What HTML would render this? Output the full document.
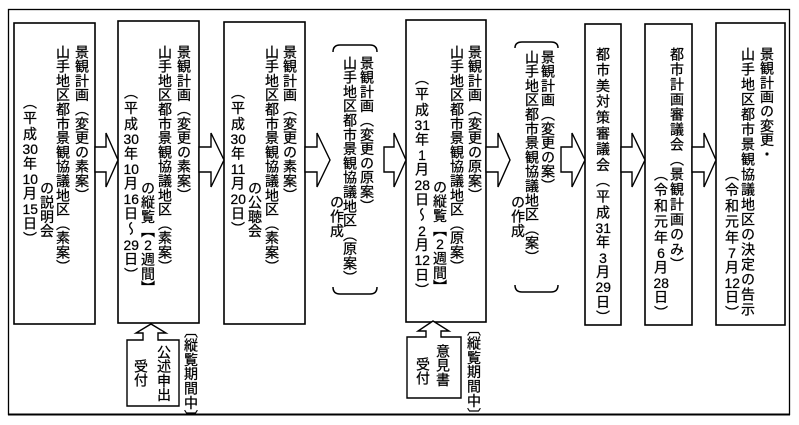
<!DOCTYPE html>
<html><head><meta charset="utf-8"><style>
html,body{margin:0;padding:0;background:#fff;}
#w{position:relative;width:799px;height:425px;overflow:hidden;background:#fff;}
svg{position:absolute;left:0;top:0;}
.c{position:absolute;writing-mode:vertical-rl;font-family:"Liberation Sans","Noto Sans CJK JP",sans-serif;font-size:14px;line-height:16px;width:16px;letter-spacing:0.3px;color:#000;white-space:nowrap;-webkit-text-stroke:0.25px #000;}
.d{letter-spacing:1.8px;}
.t{text-combine-upright:all;}
</style></head><body><div id="w">
<svg width="799" height="425" viewBox="0 0 799 425">
<g fill="none" stroke="#000">
<rect x="8.5" y="9.5" width="781" height="405" stroke-width="1.3"/>
<line x1="8" y1="414.5" x2="790" y2="414.5" stroke-width="2"/>
<g stroke-width="1.6">
<rect x="14" y="23" width="81" height="301"/>
<rect x="118" y="21" width="81" height="302"/>
<rect x="224" y="22" width="81" height="302"/>
<rect x="406" y="20" width="80" height="302"/>
<rect x="585" y="24" width="36" height="301"/>
<rect x="645" y="24" width="47" height="301"/>
<rect x="716" y="23" width="69" height="302"/>
</g>
<g stroke-width="1.5">
<path d="M333,52 Q333,45 340,45 L370,45 Q377,45 377,52"/>
<path d="M333,287 Q333,294 340,294 L370,294 Q377,294 377,287"/>
<path d="M515,48 Q515,42 522,42 L551,42 Q558,42 558,48"/>
<path d="M515,285 Q515,292 522,292 L551,292 Q558,292 558,285"/>
</g>
<g fill="#fff" stroke-width="1.4">
<polygon points="95,147 106,147 106,133 118,160 106,187 106,172 95,172"/>
<polygon points="199,147 211,147 211,133 224,160 211,187 211,172 199,172"/>
<polygon points="305,147 317,147 317,133 330,160 317,187 317,172 305,172"/>
<polygon points="384,147 394,147 394,133 406,160 394,187 394,172 384,172"/>
<polygon points="486,147 498,147 498,133 510,160 498,187 498,172 486,172"/>
<polygon points="561,147 572,147 572,133 585,160 572,187 572,172 561,172"/>
<polygon points="621,147 632,147 632,133 645,160 632,187 632,172 621,172"/>
<polygon points="692,147 704,147 704,133 716,160 704,187 704,172 692,172"/>
<polygon points="127,406 127,340 143,340 143,333 136,333 151,324 166,333 158,333 158,340 179,340 179,406"/>
<polygon points="407,398 407,337 426,337 426,331 418,331 433,321 449,331 441,331 441,337 461,337 461,398"/>
</g>
</g>
</svg>
<!-- box1 -->
<div class="c" style="left:74px;top:45px">景観計画（変更の素案）</div>
<div class="c" style="left:55px;top:45px">山手地区都市景観協議地区（素案）</div>
<div class="c" style="left:39px;top:181px">の説明会</div>
<div class="c d" style="left:22px;top:95px">（平成<span class="t">30</span>年<span class="t">10</span>月<span class="t">15</span>日）</div>
<!-- box2 -->
<div class="c" style="left:176px;top:45px">景観計画（変更の素案）</div>
<div class="c" style="left:157px;top:45px">山手地区都市景観協議地区（素案）</div>
<div class="c" style="left:140px;top:181px">の縦覧【<span class="t">2</span>週間】</div>
<div class="c d" style="left:123px;top:85px">（平成<span class="t">30</span>年<span class="t">10</span>月<span class="t">16</span>日～<span class="t">29</span>日）</div>
<!-- box3 -->
<div class="c" style="left:282px;top:45px">景観計画（変更の素案）</div>
<div class="c" style="left:264px;top:45px">山手地区都市景観協議地区（素案）</div>
<div class="c" style="left:247px;top:181px">の公聴会</div>
<div class="c d" style="left:230px;top:85px">（平成<span class="t">30</span>年<span class="t">11</span>月<span class="t">20</span>日）</div>
<!-- box4 -->
<div class="c" style="left:359px;top:56px">景観計画（変更の原案）</div>
<div class="c" style="left:342px;top:56px">山手地区都市景観協議地区（原案）</div>
<div class="c" style="left:329px;top:195px">の作成</div>
<!-- box5 -->
<div class="c" style="left:467px;top:45px">景観計画（変更の原案）</div>
<div class="c" style="left:449px;top:45px">山手地区都市景観協議地区（原案）</div>
<div class="c" style="left:432px;top:180px">の縦覧【<span class="t">2</span>週間】</div>
<div class="c d" style="left:414px;top:71px">（平成<span class="t">31</span>年<span class="t">1</span>月<span class="t">28</span>日～<span class="t">2</span>月<span class="t">12</span>日）</div>
<!-- box6 -->
<div class="c" style="left:540px;top:50px">景観計画（変更の案）</div>
<div class="c" style="left:524px;top:50px">山手地区都市景観協議地区（案）</div>
<div class="c" style="left:510px;top:195px">の作成</div>
<!-- box7 -->
<div class="c d" style="left:595px;top:47px">都市美対策審議会（平成<span class="t">31</span>年<span class="t">3</span>月<span class="t">29</span>日）</div>
<!-- box8 -->
<div class="c" style="left:669px;top:47px;letter-spacing:1px">都市計画審議会（景観計画のみ）</div>
<div class="c d" style="left:653px;top:167px">（令和元年<span class="t">6</span>月<span class="t">28</span>日）</div>
<!-- box9 -->
<div class="c" style="left:759px;top:47px">景観計画の変更・</div>
<div class="c" style="left:740px;top:47px;letter-spacing:1px">山手地区都市景観協議地区の決定の告示</div>
<div class="c d" style="left:724px;top:167px">（令和元年<span class="t">7</span>月<span class="t">12</span>日）</div>
<!-- receive boxes -->
<div class="c" style="left:156px;top:345px">公述申出</div>
<div class="c" style="left:133px;top:359px">受付</div>
<div class="c" style="left:183px;top:324px">〔縦覧期間中〕</div>
<div class="c" style="left:435px;top:344px">意見書</div>
<div class="c" style="left:415px;top:357px">受付</div>
<div class="c" style="left:466px;top:322px">〔縦覧期間中〕</div>
</div></body></html>
